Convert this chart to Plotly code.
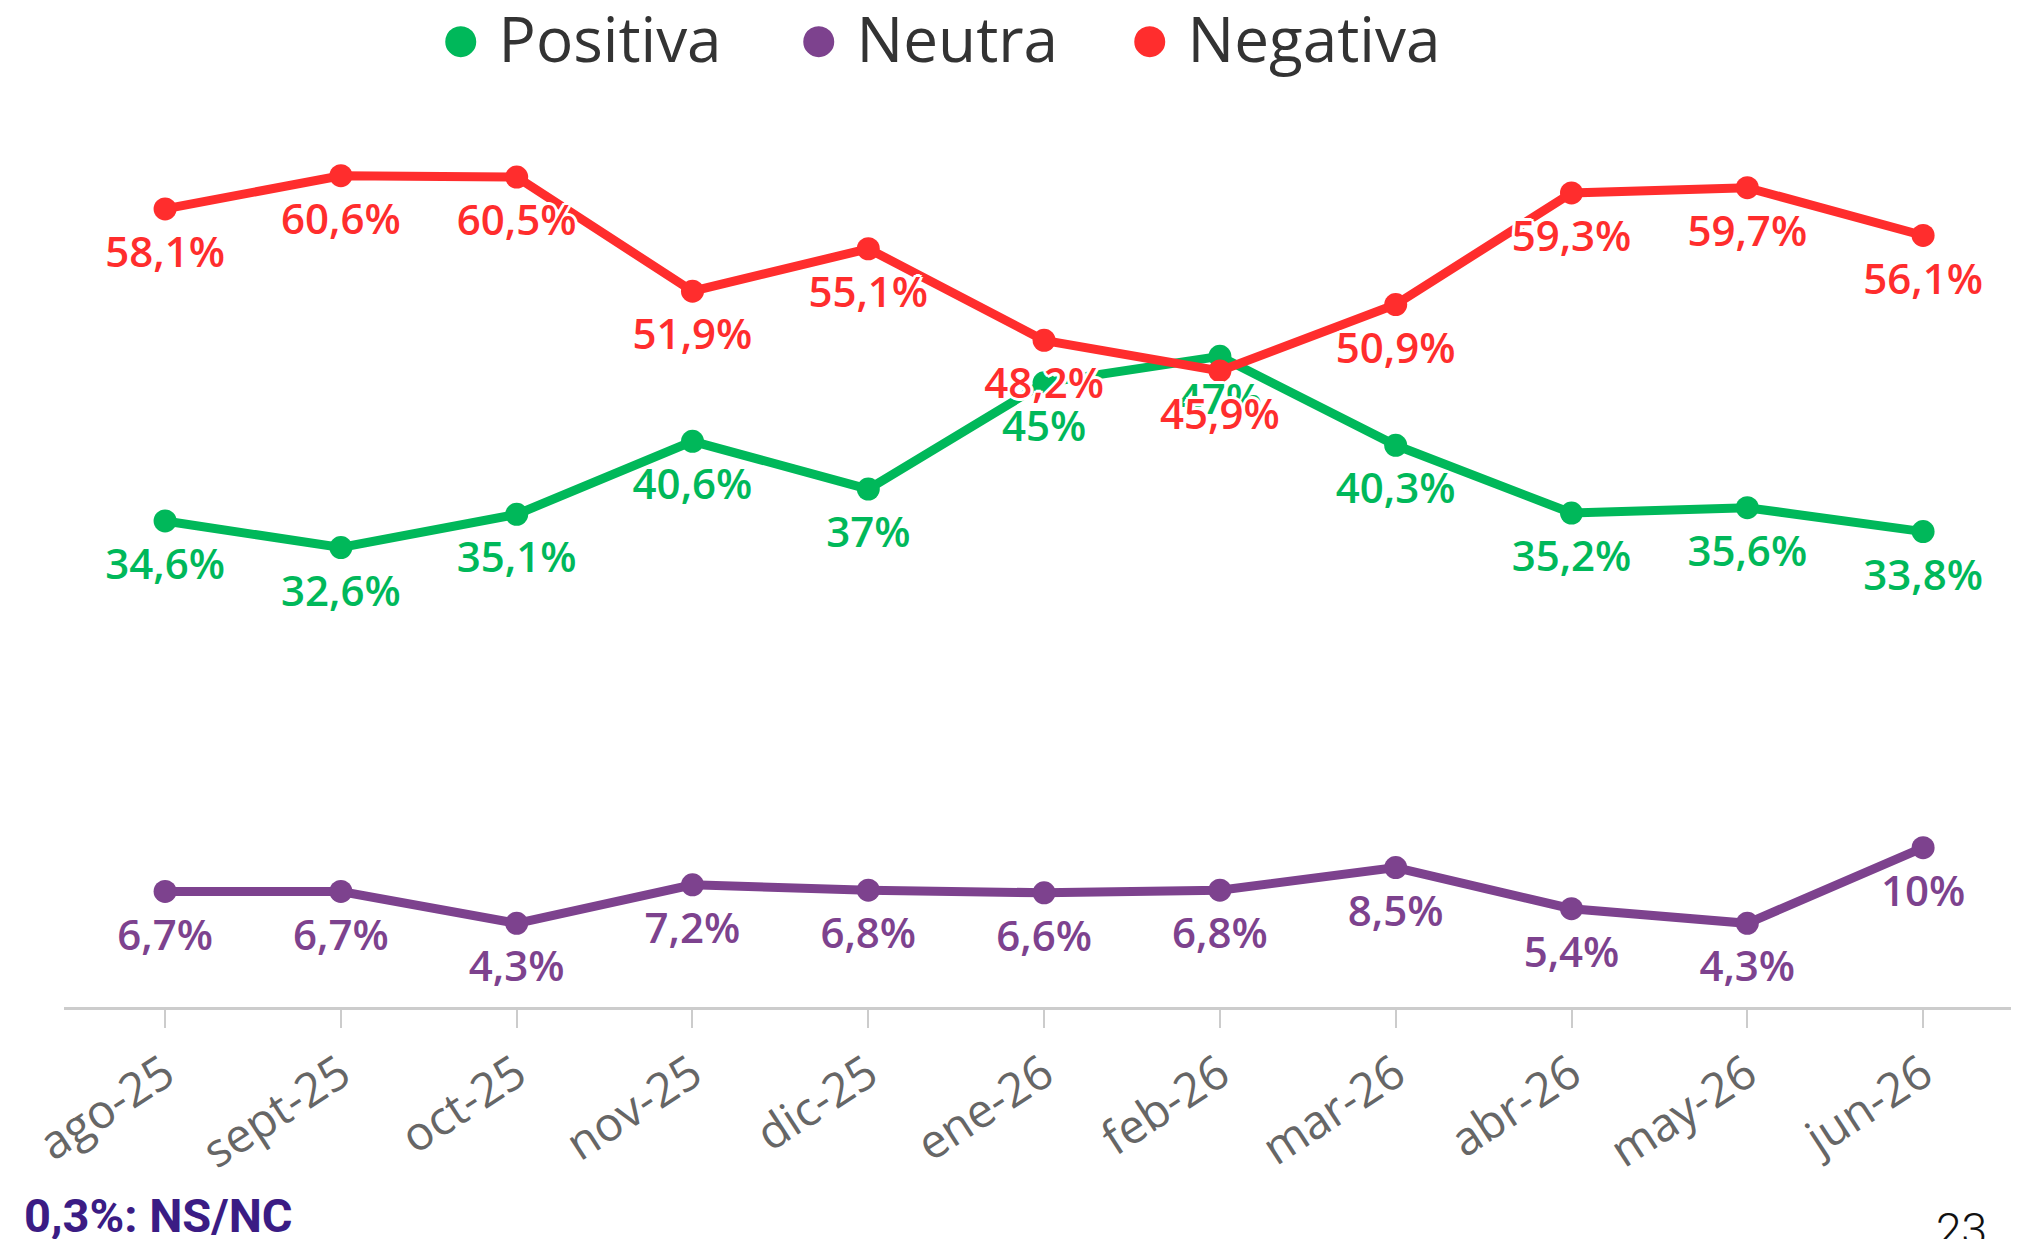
import plotly.graph_objects as go

# --- data ---
months = ['ago-25', 'sept-25', 'oct-25', 'nov-25', 'dic-25', 'ene-26',
          'feb-26', 'mar-26', 'abr-26', 'may-26', 'jun-26']
positiva = [34.6, 32.6, 35.1, 40.6, 37, 45, 47, 40.3, 35.2, 35.6, 33.8]
neutra = [6.7, 6.7, 4.3, 7.2, 6.8, 6.6, 6.8, 8.5, 5.4, 4.3, 10]
negativa = [58.1, 60.6, 60.5, 51.9, 55.1, 48.2, 45.9, 50.9, 59.3, 59.7, 56.1]
series_names = ['Positiva', 'Neutra', 'Negativa']
nsnc_note = '0,3%: NS/NC'
page_number = '23'

colors = {'Positiva': '#00B85A', 'Neutra': '#7D428E', 'Negativa': '#FF2D2D'}

# page body has an 8px margin, so the figure is a bit smaller than the window
OFF = 8
W, H = 2033 - OFF, 1239 - OFF
M = dict(l=56, r=22, t=96, b=232)
plot_w = W - M['l'] - M['r']
plot_h = H - M['t'] - M['b']

# helpers: window pixel -> paper coords
def px_x(p):
    return (p - OFF - M['l']) / plot_w

def px_y(p):
    return 1 - (p - OFF - M['t']) / plot_h

def fmt(v):
    return ('%g' % v).replace('.', ',') + '%'

halo = ('3px 0 0 #fff, -3px 0 0 #fff, 0 3px 0 #fff, 0 -3px 0 #fff, '
        '2px 2px 0 #fff, -2px -2px 0 #fff, 2px -2px 0 #fff, -2px 2px 0 #fff')

order = [('Neutra', neutra), ('Positiva', positiva), ('Negativa', negativa)]

fig = go.Figure()
for name, vals in order:
    fig.add_trace(go.Scatter(
        x=months, y=vals, name=name, mode='lines+markers',
        line=dict(color=colors[name], width=9),
        marker=dict(color=colors[name], size=23),
        cliponaxis=False, showlegend=False))

# labels on top of all lines; invisible bigger markers push text lower
for name, vals in order:
    fig.add_trace(go.Scatter(
        x=months, y=vals, mode='markers+text',
        marker=dict(size=41, opacity=0),
        text=[fmt(v) for v in vals], textposition='bottom center',
        textfont=dict(family='Open Sans', size=42, color=colors[name],
                      weight=600, shadow=halo),
        hoverinfo='skip', cliponaxis=False, showlegend=False))

# legend row drawn as annotations (big dots like the original)
legend_x = [461, 819, 1150]
for name, lx in zip(series_names, legend_x):
    fig.add_annotation(
        x=px_x(lx - 24), y=px_y(34), xref='paper', yref='paper',
        xanchor='left', yanchor='middle', showarrow=False,
        text='<span style="color:%s;font-size:72px">●</span> %s' % (colors[name], name),
        font=dict(family='Open Sans', size=62, color='#333333'))

fig.add_annotation(
    x=px_x(22), y=px_y(1215), xref='paper', yref='paper',
    xanchor='left', yanchor='middle', showarrow=False,
    text='<b>%s</b>' % nsnc_note,
    font=dict(family='Roboto', size=47, color='#3B1C84'))

fig.add_annotation(
    x=px_x(1934), y=px_y(1230), xref='paper', yref='paper',
    xanchor='left', yanchor='middle', showarrow=False,
    text=page_number,
    font=dict(family='Roboto', size=46, color='#111111', weight=300))

fig.update_xaxes(
    type='category', range=[-0.575, 10.5],
    showline=True, linecolor='#cccccc', linewidth=3,
    ticks='outside', ticklen=18, tickcolor='#cccccc', tickwidth=2,
    tickangle=-33, tickfont=dict(family='Open Sans', size=47, color='#666666'),
    showgrid=False, zeroline=False)
fig.update_yaxes(range=[-2, 66], visible=False, showgrid=False)

fig.update_layout(
    width=W, height=H, margin=M,
    paper_bgcolor='white', plot_bgcolor='white',
    showlegend=False)

fig.write_html('out.html')
